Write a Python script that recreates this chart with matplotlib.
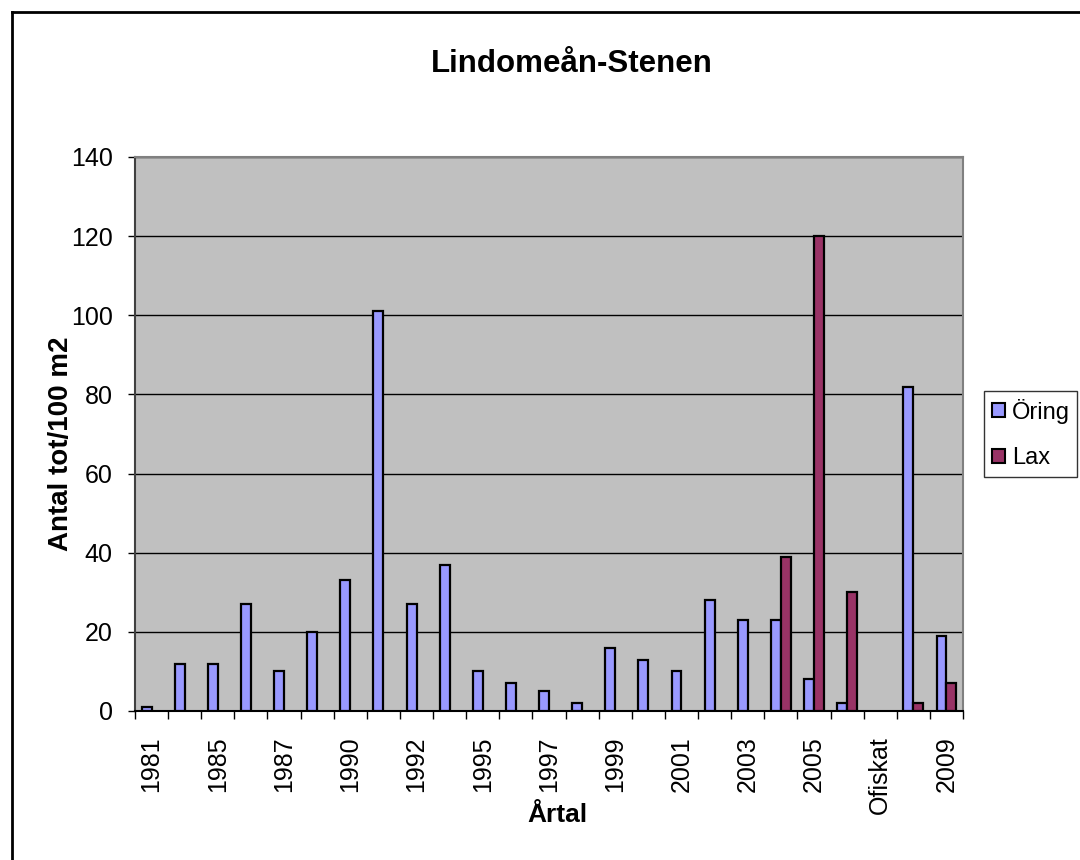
import matplotlib
matplotlib.use("Agg")
import matplotlib.pyplot as plt
from matplotlib.lines import Line2D
from matplotlib.patches import Patch

plt.rcParams['font.family'] = ['Liberation Sans', 'DejaVu Sans']

title = "Lindomeån-Stenen"
tick_labels = ["1981", "", "1985", "", "1987", "", "1990", "", "1992", "",
               "1995", "", "1997", "", "1999", "", "2001", "", "2003", "",
               "2005", "", "Ofiskat", "", "2009"]
oring = [1, 12, 12, 27, 10, 20, 33, 101, 27, 37, 10, 7, 5, 2, 16, 13, 10,
         28, 23, 23, 8, 2, 0, 82, 19]
lax = [0, 0, 0, 0, 0, 0, 0, 0, 0, 0, 0, 0, 0, 0, 0, 0, 0,
       0, 0, 39, 120, 30, 0, 2, 7]
series_names = ["Öring", "Lax"]
colors = ["#9999FF", "#993366"]

fig = plt.figure(figsize=(10.8, 8.6), dpi=100)
ax = fig.add_axes([135/1080, 1-711/860, (963-135)/1080, (711-157)/860])
ax.set_facecolor("#C0C0C0")

n = len(tick_labels)
idx = list(range(n))
bw = 0.3
for vals, off, c in [(oring, 0.2, colors[0]), (lax, 0.5, colors[1])]:
    xs = [i + off for i, v in zip(idx, vals) if v > 0]
    hs = [v for v in vals if v > 0]
    ax.bar(xs, hs, width=bw, align='edge', color=c, edgecolor='black',
           linewidth=1.6, zorder=3)

ax.set_xlim(0, n)
ax.set_ylim(0, 140)
ax.set_yticks(range(0, 141, 20))
ax.yaxis.grid(True, color='black', linewidth=1.0, zorder=1)
ax.set_axisbelow(True)

ax.set_xticks(range(0, n + 1))
ax.set_xticklabels([])
ax.set_xticks([i + 0.5 for i in idx], minor=True)
ax.set_xticklabels(tick_labels, minor=True, rotation=90, fontsize=18)
ax.tick_params(axis='x', which='major', length=6, width=1, direction='out', color='black')
ax.tick_params(axis='x', which='minor', length=0, pad=18)
ax.tick_params(axis='y', length=5, width=1, labelsize=18, pad=11)

for s in ['top', 'right']:
    ax.spines[s].set_color('#808080')
    ax.spines[s].set_linewidth(1.5)
ax.spines['left'].set_color('#404040')
ax.spines['left'].set_linewidth(1.5)
ax.spines['bottom'].set_color('black')
ax.spines['bottom'].set_linewidth(1.5)

fig.text(61/1080, 1-444/860, "Antal tot/100 m2", rotation=90, ha='center',
         va='center', fontsize=20, fontweight='bold')
fig.text(557.5/1080, 1-822/860, "Årtal", ha='center', va='baseline',
         fontsize=19, fontweight='bold')
fig.text(572/1080, 1-72/860, title, ha='center', va='baseline',
         fontsize=22.5, fontweight='bold')

handles = [Patch(facecolor=c, edgecolor='black', linewidth=1.5) for c in colors]
leg = fig.legend(handles, series_names, loc='upper left',
                 bbox_to_anchor=(984/1080, 1-391/860), fontsize=17,
                 frameon=True, fancybox=False, edgecolor='black',
                 handlelength=0.55, handleheight=0.55, handletextpad=0.3,
                 borderpad=0.32, labelspacing=1.0, borderaxespad=0)
leg.get_frame().set_linewidth(1.0)

fig.add_artist(Line2D([12/1080, 1], [1-12/860, 1-12/860], color='black', linewidth=2))
fig.add_artist(Line2D([12/1080, 12/1080], [0, 1-12/860], color='black', linewidth=2))

fig.savefig("out.png", dpi=100)
